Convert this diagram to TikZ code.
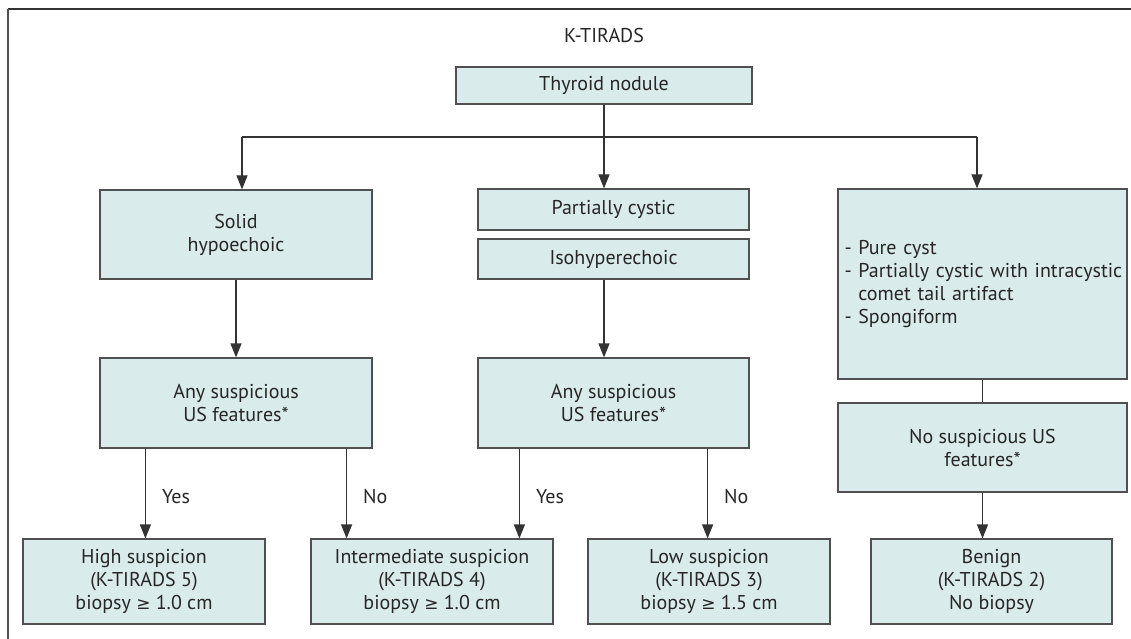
\documentclass[tikz,border=0pt]{standalone}
\usepackage{fontspec}
\setmainfont{PT Sans}
\newfontfamily\symf{DejaVu Sans}
\usetikzlibrary{arrows.meta,calc}
\definecolor{boxfill}{HTML}{DAEBEC}
\definecolor{boxline}{HTML}{505050}
\definecolor{txt}{HTML}{262626}
\definecolor{connc}{HTML}{333333}
\newcommand{\geqsym}{{\symf\fontsize{17}{23}\selectfont ≥}}
\begin{document}
\begin{tikzpicture}[x=1pt,y=-1pt,
  font=\fontsize{20}{23}\selectfont,
  box/.style={rectangle, draw=boxline, fill=boxfill, line width=1.2pt, text=txt, align=center, inner sep=0pt},
  conn/.style={draw=connc, line width=1.2pt},
  arrow/.style={conn, -{Triangle[length=14pt,width=11pt]}},
  lbl/.style={midway, anchor=west, xshift=12pt, yshift=-3.5pt, inner sep=4pt, text=txt}]
\useasboundingbox (0,0) rectangle (1131,639);
% frame
\draw[line width=2pt, color=connc] (8,9) -- (1131,9);
\draw[line width=1.3pt, color=boxline] (8,9) -- (8,639);
% title
\node[text=txt] (title) at (604,36) {K-TIRADS};
% boxes
\node[box, minimum width=296pt, minimum height=37pt] (thy) at (604,85.5) {Thyroid nodule};
\node[box, minimum width=272pt, minimum height=89pt] (solid) at (236,234.5) {Solid\\hypoechoic};
\node[box, minimum width=271pt, minimum height=41pt] (pc) at (613.5,209.5) {Partially cystic};
\node[box, minimum width=271pt, minimum height=40pt] (iso) at (613.5,259) {Isohyperechoic};
\node[box, minimum width=289pt, minimum height=190pt, inner xsep=6.5pt, text width=276pt, align=left] (cyst) at (982.5,284) {\mbox{- Pure cyst}\\\mbox{- Partially cystic with intracystic}\\\mbox{\phantom{- }comet tail artifact}\\\mbox{- Spongiform}};
\node[box, minimum width=272pt, minimum height=90pt] (any1) at (236,403) {Any suspicious\\US features*};
\node[box, minimum width=271pt, minimum height=90pt] (any2) at (613.5,403) {Any suspicious\\US features*};
\node[box, minimum width=289pt, minimum height=89pt] (nosus) at (982.5,447.5) {No suspicious US\\features*};
\node[box, minimum width=242pt, minimum height=85pt] (high) at (144,581.5) {High suspicion\\(K-TIRADS 5)\\biopsy \geqsym{} 1.0 cm};
\node[box, minimum width=242pt, minimum height=85pt] (inter) at (432,581.5) {Intermediate suspicion\\(K-TIRADS 4)\\biopsy \geqsym{} 1.0 cm};
\node[box, minimum width=242pt, minimum height=85pt] (low) at (709,581.5) {Low suspicion\\(K-TIRADS 3)\\biopsy \geqsym{} 1.5 cm};
\node[box, minimum width=241pt, minimum height=85pt] (benign) at (991.5,581.5) {Benign\\(K-TIRADS 2)\\No biopsy};
% connectors
\coordinate (jL) at (242,137);
\coordinate (jM) at (604,137);
\coordinate (jR) at (977,137);
\draw[conn] (thy.south) -- (jM);
\draw[conn] (jL) -- (jR);
\draw[arrow] (jL) -- (jL |- solid.north);
\draw[arrow] (jM) -- (jM |- pc.north);
\draw[arrow] (jR) -- (jR |- cyst.north);
\draw[arrow] (solid.south) -- (any1.north);
\draw[arrow] (jM |- iso.south) -- (jM |- any2.north);
\draw[conn] (cyst.south) -- (nosus.north);
\draw[arrow] (nosus.south) -- (nosus.south |- benign.north);
\draw[arrow] ([xshift=46pt]any1.south west) coordinate (a1) -- (a1 |- high.north) node[lbl] {Yes};
\draw[arrow] ([xshift=-26pt]any1.south east) coordinate (a2) -- (a2 |- inter.north) node[lbl] {No};
\draw[arrow] ([xshift=42pt]any2.south west) coordinate (a3) -- (a3 |- inter.north) node[lbl] {Yes};
\draw[arrow] ([xshift=-42pt]any2.south east) coordinate (a4) -- (a4 |- low.north) node[lbl] {No};
\end{tikzpicture}
\end{document}
